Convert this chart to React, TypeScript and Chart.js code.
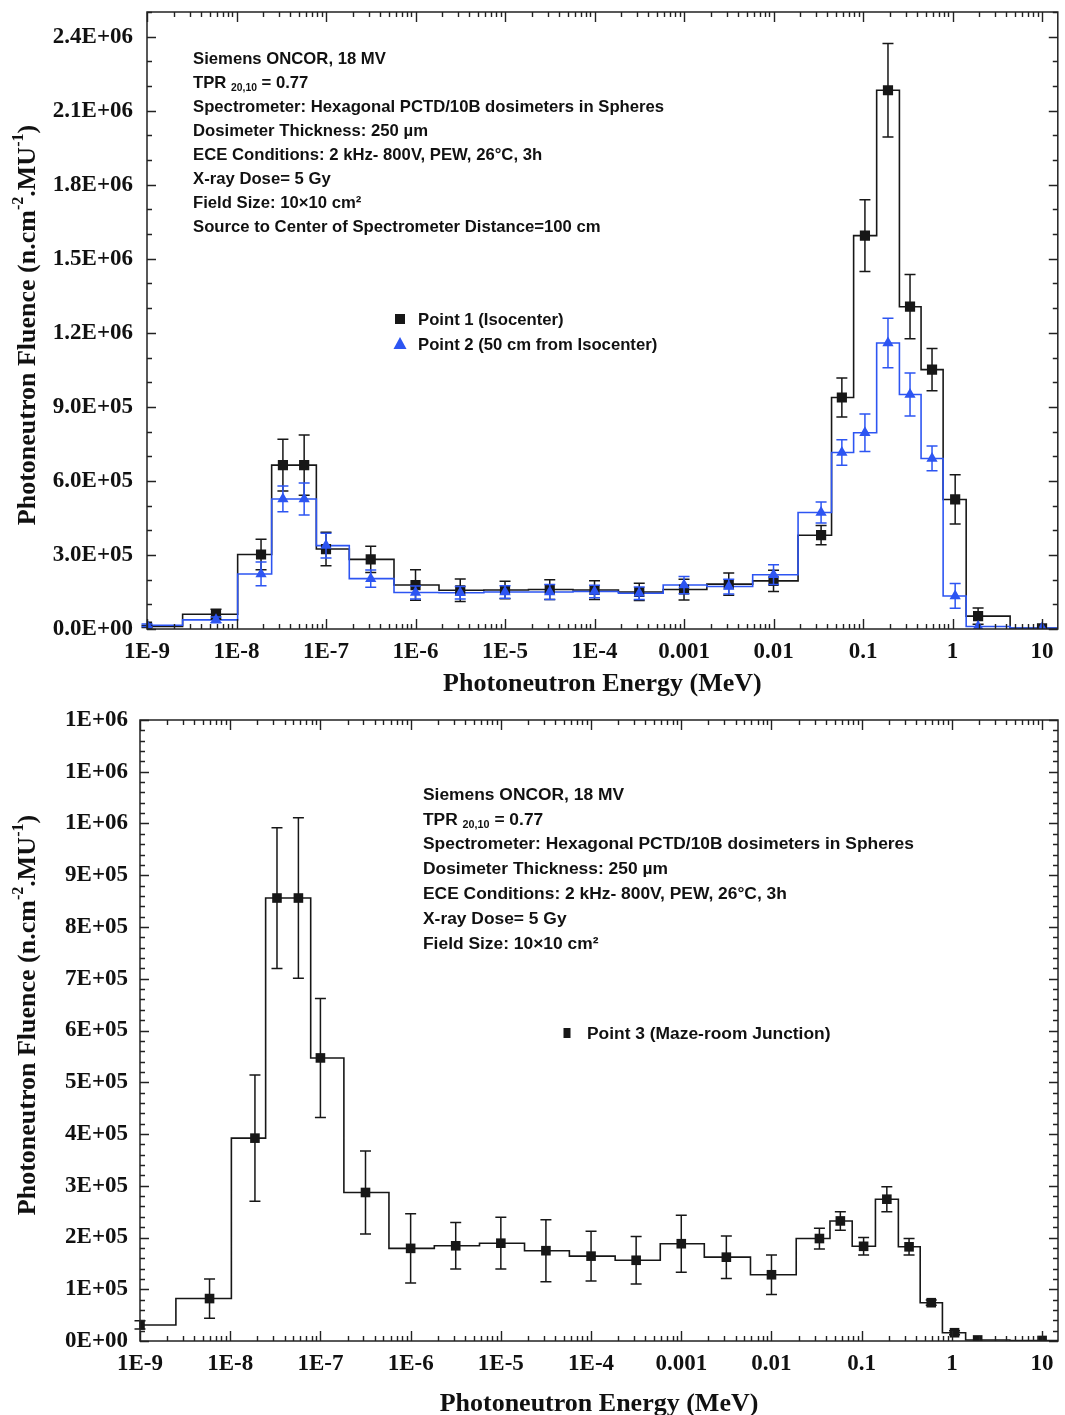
import React, { useEffect, useRef } from "react";
import { Chart, registerables } from "chart.js";

Chart.register(...registerables);

// Energy-bin edges (MeV) of the spectrometer response, shared by all points
const BIN_EDGES = [
  1e-9, 2.5e-9, 1.03e-8, 2.47e-8, 4.3e-8, 7.8e-8, 1.82e-7, 5.75e-7, 1.83e-6, 5.8e-6,
  1.83e-5, 5.75e-5, 1.85e-4, 5.85e-4, 1.8e-3, 5.85e-3, 1.88e-2, 4.45e-2, 7.85e-2, 0.142,
  0.255, 0.445, 0.785, 1.42, 4.4, 15,
];

// Representative energy of every bin (MeV)
const ENERGIES = [
  1e-9, 5.9e-9, 1.88e-8, 3.3e-8, 5.7e-8, 1e-7, 3.16e-7, 1e-6, 3.16e-6, 1e-5,
  3.16e-5, 1e-4, 3.16e-4, 1e-3, 3.16e-3, 1e-2, 0.034, 0.058, 0.105, 0.19,
  0.335, 0.59, 1.07, 1.93, 10,
];

// Point 1 (isocenter): fluence and uncertainty, n.cm^-2.MU^-1
const P1_FLUENCE = [
  1.0e4, 6.0e4, 3.02e5, 6.64e5, 6.64e5, 3.24e5, 2.82e5, 1.78e5, 1.57e5, 1.58e5,
  1.6e5, 1.58e5, 1.5e5, 1.6e5, 1.82e5, 1.95e5, 3.8e5, 9.38e5, 1.594e6, 2.183e6,
  1.306e6, 1.051e6, 5.25e5, 5.2e4, 3e3,
];
const P1_ERROR = [
  4e3, 2e4, 6.2e4, 1.05e5, 1.22e5, 6.8e4, 5.3e4, 6.2e4, 4.6e4, 3.5e4,
  4e4, 3.8e4, 3.5e4, 4.2e4, 4.5e4, 4.3e4, 3.9e4, 7.9e4, 1.45e5, 1.89e5,
  1.3e5, 8.6e4, 1.0e5, 3.3e4, 0,
];

// Point 2 (50 cm from isocenter)
const P2_FLUENCE = [
  1.5e4, 3.7e4, 2.23e5, 5.27e5, 5.27e5, 3.38e5, 2.04e5, 1.48e5, 1.47e5, 1.5e5,
  1.5e5, 1.52e5, 1.45e5, 1.78e5, 1.72e5, 2.2e5, 4.72e5, 7.15e5, 7.95e5, 1.159e6,
  9.5e5, 6.91e5, 1.34e5, 1.0e4, 4e3,
];
const P2_ERROR = [
  5e3, 1.2e4, 4.8e4, 5.2e4, 6.5e4, 5e4, 3.5e4, 2.6e4, 2.5e4, 2.5e4,
  3e4, 2.5e4, 2.5e4, 3.5e4, 3e4, 4e4, 4.3e4, 5.2e4, 7.6e4, 1.0e5,
  8.7e4, 5e4, 5e4, 0, 0,
];

// Point 3 (maze-room junction)
const P3_FLUENCE = [
  3.1e4, 8.2e4, 3.92e5, 8.56e5, 8.56e5, 5.47e5, 2.87e5, 1.79e5, 1.84e5, 1.89e5,
  1.745e5, 1.64e5, 1.56e5, 1.88e5, 1.62e5, 1.28e5, 1.98e5, 2.32e5, 1.83e5, 2.74e5,
  1.82e5, 7.4e4, 1.6e4, 2e3, 1e3,
];
const P3_ERROR = [
  8e3, 3.8e4, 1.22e5, 1.36e5, 1.55e5, 1.15e5, 8e4, 6.7e4, 4.5e4, 5e4,
  6e4, 4.8e4, 4.6e4, 5.5e4, 4.1e4, 3.8e4, 2e4, 1.8e4, 1.7e4, 2.4e4,
  1.6e4, 5e3, 4e3, 0, 0,
];

const X_DECADES = [1e-9, 1e-8, 1e-7, 1e-6, 1e-5, 1e-4, 1e-3, 1e-2, 1e-1, 1, 10];
const X_TICK_LABELS = ["1E-9", "1E-8", "1E-7", "1E-6", "1E-5", "1E-4", "0.001", "0.01", "0.1", "1", "10"];
const TOP_Y_TICKS = [0, 3e5, 6e5, 9e5, 1.2e6, 1.5e6, 1.8e6, 2.1e6, 2.4e6];
const BOTTOM_Y_TICKS = [0, 1e5, 2e5, 3e5, 4e5, 5e5, 6e5, 7e5, 8e5, 9e5, 1e6, 1.1e6, 1.2e6];

const X_TITLE = "Photoneutron Energy (MeV)";

type Seg = { t: string; s?: "sub" | "sup" };

const Y_TITLE: Seg[] = [
  { t: "Photoneutron Fluence (n.cm" },
  { t: "-2", s: "sup" },
  { t: ".MU" },
  { t: "-1", s: "sup" },
  { t: ")" },
];

const SETUP_LINES: Seg[][] = [
  [{ t: "Siemens ONCOR, 18 MV" }],
  [{ t: "TPR " }, { t: "20,10", s: "sub" }, { t: " = 0.77" }],
  [{ t: "Spectrometer: Hexagonal PCTD/10B dosimeters in Spheres" }],
  [{ t: "Dosimeter Thickness: 250 µm" }],
  [{ t: "ECE Conditions: 2 kHz- 800V, PEW, 26°C, 3h" }],
  [{ t: "X-ray Dose= 5 Gy" }],
  [{ t: "Field Size: 10×10 cm²" }],
];
const DISTANCE_LINE: Seg[] = [{ t: "Source to Center of Spectrometer Distance=100 cm" }];

const BLACK = "#171717";
const BLUE = "#2d55f2";
const SERIF = '"Liberation Serif", "Times New Roman", serif';
const SANS = '"Liberation Sans", Arial, sans-serif';
const W = 1065;

const fmtExp = (v: number, digits: number) => {
  const [m, e] = v.toExponential(digits).split("e");
  const n = parseInt(e, 10);
  return `${m}E${n < 0 ? "-" : "+"}${String(Math.abs(n)).padStart(2, "0")}`;
};

// histogram outline: one vertex per bin edge, level held until the next edge
const stepData = (vals: number[]) => [
  ...vals.map((y, i) => ({ x: BIN_EDGES[i], y })),
  { x: BIN_EDGES[vals.length], y: vals[vals.length - 1] },
];
const pointData = (vals: number[]) => vals.map((y, i) => ({ x: ENERGIES[i], y }));

function measureRich(ctx: CanvasRenderingContext2D, segs: Seg[], size: number, family: string) {
  let w = 0;
  for (const sg of segs) {
    ctx.font = `bold ${sg.s ? size * 0.62 : size}px ${family}`;
    w += ctx.measureText(sg.t).width;
  }
  return w;
}

function drawRich(ctx: CanvasRenderingContext2D, segs: Seg[], x: number, y: number, size: number, family: string) {
  let cx = x;
  for (const sg of segs) {
    const fs = sg.s ? size * 0.62 : size;
    ctx.font = `bold ${fs}px ${family}`;
    const dy = sg.s === "sub" ? size * 0.28 : sg.s === "sup" ? -size * 0.36 : 0;
    ctx.fillText(sg.t, cx, y + dy);
    cx += ctx.measureText(sg.t).width;
  }
}

type Series = { label: string; values: number[]; errors: number[]; color: string; marker: "rect" | "triangle"; radius: number };
type LegendItem = { label: string; color: string; marker: "square" | "triangle" | "bar"; y: number };

type PanelSpec = {
  top: number;
  height: number;
  area: { left: number; right: number; top: number; bottom: number };
  xTitlePad: number;
  yMax: number;
  yTicks: number[];
  yDigits: number;
  yMinor: number;
  yMajor: number;
  yLabelPad: number;
  series: Series[];
  notes: { x: number; y: number; gap: number; size: number; lines: Seg[][] };
  legend: { x: number; textX: number; size: number; items: LegendItem[] };
  yTitle: { x: number; y: number };
};

function makeDecor(spec: PanelSpec) {
  return {
    id: "decor",
    beforeDatasetDraw(chart: any, args: any) {
      const ds = chart.data.datasets[args.index];
      if (!ds.errors) return;
      const { ctx } = chart;
      const ys = chart.scales.y;
      ctx.save();
      ctx.strokeStyle = ds.borderColor;
      ctx.lineWidth = 1.5;
      args.meta.data.forEach((el: any, i: number) => {
        const e = ds.errors[i];
        if (!e) return;
        const v = ds.data[i].y;
        const y1 = ys.getPixelForValue(v + e);
        const y2 = ys.getPixelForValue(Math.max(0, v - e));
        ctx.beginPath();
        ctx.moveTo(el.x, y1);
        ctx.lineTo(el.x, y2);
        ctx.moveTo(el.x - 5.5, y1);
        ctx.lineTo(el.x + 5.5, y1);
        ctx.moveTo(el.x - 5.5, y2);
        ctx.lineTo(el.x + 5.5, y2);
        ctx.stroke();
      });
      ctx.restore();
    },
    afterDraw(chart: any) {
      const { ctx, chartArea } = chart;
      const { left, right, top, bottom } = chartArea;
      const xs = chart.scales.x;
      const ys = chart.scales.y;
      ctx.save();

      // inward tick marks on all four sides
      ctx.strokeStyle = "#222";
      ctx.lineWidth = 1.4;
      ctx.beginPath();
      for (let d = -9; d <= 1; d++) {
        for (let k = 1; k <= 9; k++) {
          const v = k * Math.pow(10, d);
          if (v < xs.min || v > xs.max) continue;
          const px = Math.round(xs.getPixelForValue(v)) + 0.5;
          const len = k === 1 ? 10 : 5;
          ctx.moveTo(px, bottom);
          ctx.lineTo(px, bottom - len);
          ctx.moveTo(px, top);
          ctx.lineTo(px, top + len);
        }
      }
      const n = Math.round(spec.yMax / spec.yMinor);
      const ratio = Math.round(spec.yMajor / spec.yMinor);
      for (let i = 0; i <= n; i++) {
        const py = Math.round(ys.getPixelForValue(i * spec.yMinor)) + 0.5;
        const len = i % ratio === 0 ? 9 : 5;
        ctx.moveTo(left, py);
        ctx.lineTo(left + len, py);
        ctx.moveTo(right, py);
        ctx.lineTo(right - len, py);
      }
      ctx.stroke();

      // plot frame
      ctx.lineWidth = 1.5;
      ctx.strokeRect(left, top, right - left, bottom - top);

      // measurement set-up notes
      ctx.fillStyle = "#111";
      ctx.textBaseline = "middle";
      ctx.textAlign = "left";
      spec.notes.lines.forEach((line, i) => {
        drawRich(ctx, line, spec.notes.x, spec.notes.y + i * spec.notes.gap, spec.notes.size, SANS);
      });

      // legend
      spec.legend.items.forEach((it) => {
        const cx = spec.legend.x;
        const cy = it.y;
        ctx.fillStyle = it.color;
        if (it.marker === "square") {
          ctx.fillRect(cx - 5, cy - 5, 10, 10);
        } else if (it.marker === "bar") {
          ctx.fillRect(cx - 3.5, cy - 5, 7, 10);
        } else {
          ctx.beginPath();
          ctx.moveTo(cx, cy - 7);
          ctx.lineTo(cx + 6.5, cy + 5);
          ctx.lineTo(cx - 6.5, cy + 5);
          ctx.closePath();
          ctx.fill();
        }
        ctx.fillStyle = "#111";
        ctx.font = `bold ${spec.legend.size}px ${SANS}`;
        ctx.fillText(it.label, spec.legend.textX, cy + 1);
      });

      // rotated y-axis title with superscripts
      ctx.fillStyle = "#111";
      ctx.translate(spec.yTitle.x, spec.yTitle.y);
      ctx.rotate(-Math.PI / 2);
      const tw = measureRich(ctx, Y_TITLE, 26, SERIF);
      drawRich(ctx, Y_TITLE, -tw / 2, 0, 26, SERIF);
      ctx.restore();
    },
  };
}

function Panel({ spec }: { spec: PanelSpec }) {
  const ref = useRef<HTMLCanvasElement | null>(null);

  useEffect(() => {
    if (!ref.current) return;
    const datasets: any[] = [];
    spec.series.forEach((s) => {
      datasets.push({
        label: s.label,
        data: pointData(s.values),
        errors: s.errors,
        showLine: false,
        pointStyle: s.marker,
        pointRadius: s.radius,
        pointBorderWidth: 0,
        backgroundColor: s.color,
        borderColor: s.color,
        order: 1,
      });
    });
    spec.series.forEach((s) => {
      datasets.push({
        label: s.label + " bins",
        data: stepData(s.values),
        showLine: true,
        stepped: "before",
        pointRadius: 0,
        borderWidth: 1.6,
        borderColor: s.color,
        backgroundColor: s.color,
        fill: false,
        order: 2,
      });
    });

    const serifTick = { family: SERIF, size: 23, weight: "bold" as const };
    const chart = new Chart(ref.current, {
      type: "scatter",
      data: { datasets },
      plugins: [makeDecor(spec)],
      options: {
        animation: false,
        responsive: false,
        maintainAspectRatio: false,
        events: [],
        layout: {
          padding: { top: spec.area.top, right: W - spec.area.right, left: 0, bottom: 0 },
        },
        plugins: { legend: { display: false }, tooltip: { enabled: false } },
        scales: {
          x: {
            type: "logarithmic",
            min: BIN_EDGES[0],
            max: BIN_EDGES[BIN_EDGES.length - 1],
            grid: { display: false, drawTicks: false },
            border: { display: false },
            afterBuildTicks: (s: any) => {
              s.ticks = X_DECADES.map((value) => ({ value }));
            },
            afterFit: (s: any) => {
              s.height = spec.height - spec.area.bottom;
              s.paddingLeft = 0;
              s.paddingRight = 0;
            },
            ticks: {
              autoSkip: false,
              maxRotation: 0,
              padding: 9,
              color: "#111",
              font: serifTick,
              callback: (_v: any, i: number) => X_TICK_LABELS[i],
            },
            title: {
              display: true,
              text: X_TITLE,
              color: "#111",
              font: { family: SERIF, size: 26, weight: "bold", lineHeight: 1 },
              padding: { top: 0, bottom: spec.xTitlePad },
            },
          },
          y: {
            type: "linear",
            min: 0,
            max: spec.yMax,
            grid: { display: false, drawTicks: false },
            border: { display: false },
            afterBuildTicks: (s: any) => {
              s.ticks = spec.yTicks.map((value) => ({ value }));
            },
            afterFit: (s: any) => {
              s.width = spec.area.left;
              s.paddingTop = 0;
              s.paddingBottom = 0;
            },
            ticks: {
              padding: spec.yLabelPad,
              color: "#111",
              font: serifTick,
              callback: (v: any) => fmtExp(Number(v), spec.yDigits),
            },
          },
        },
      } as any,
    });
    return () => chart.destroy();
  }, [spec]);

  return (
    <canvas
      ref={ref}
      width={W}
      height={spec.height}
      style={{ position: "absolute", left: 0, top: spec.top, width: W, height: spec.height, display: "block" }}
    />
  );
}

const TOP_PANEL: PanelSpec = {
  top: 0,
  height: 700,
  area: { left: 147, right: 1060, top: 12, bottom: 629 },
  xTitlePad: 3,
  yMax: 2.5e6,
  yTicks: TOP_Y_TICKS,
  yDigits: 1,
  yMinor: 1e5,
  yMajor: 3e5,
  yLabelPad: 14,
  series: [
    { label: "Point 2 (50 cm from Isocenter)", values: P2_FLUENCE, errors: P2_ERROR, color: BLUE, marker: "triangle", radius: 6.5 },
    { label: "Point 1 (Isocenter)", values: P1_FLUENCE, errors: P1_ERROR, color: BLACK, marker: "rect", radius: 7.2 },
  ],
  notes: { x: 193, y: 59, gap: 24, size: 16.7, lines: [...SETUP_LINES, DISTANCE_LINE] },
  legend: {
    x: 400,
    textX: 418,
    size: 16.7,
    items: [
      { label: "Point 1 (Isocenter)", color: BLACK, marker: "square", y: 319 },
      { label: "Point 2 (50 cm from Isocenter)", color: BLUE, marker: "triangle", y: 344 },
    ],
  },
  yTitle: { x: 28, y: 325 },
};

const BOTTOM_PANEL: PanelSpec = {
  top: 700,
  height: 715,
  area: { left: 140, right: 1058, top: 20, bottom: 641 },
  xTitlePad: -2,
  yMax: 1.2e6,
  yTicks: BOTTOM_Y_TICKS,
  yDigits: 0,
  yMinor: 2e4,
  yMajor: 1e5,
  yLabelPad: 12,
  series: [
    { label: "Point 3 (Maze-room Junction)", values: P3_FLUENCE, errors: P3_ERROR, color: BLACK, marker: "rect", radius: 6.8 },
  ],
  notes: { x: 423, y: 95, gap: 24.8, size: 17.4, lines: SETUP_LINES },
  legend: {
    x: 567,
    textX: 587,
    size: 17.4,
    items: [{ label: "Point 3 (Maze-room Junction)", color: BLACK, marker: "bar", y: 333 }],
  },
  yTitle: { x: 28, y: 315 },
};

export default function App() {
  return (
    <div style={{ position: "absolute", left: 0, top: 0, width: W, height: 1415, background: "#fff" }}>
      <Panel spec={TOP_PANEL} />
      <Panel spec={BOTTOM_PANEL} />
    </div>
  );
}
